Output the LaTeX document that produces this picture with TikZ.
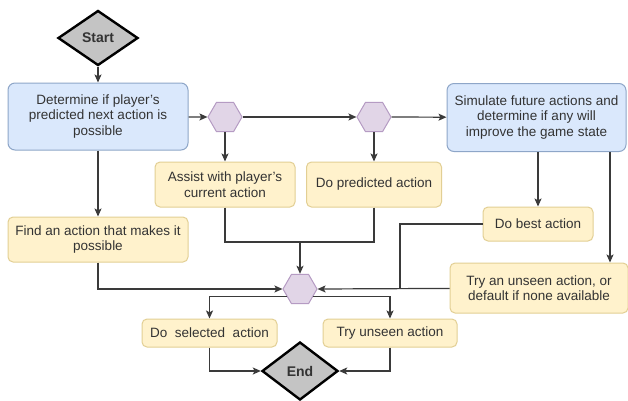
\documentclass[tikz,border=0pt]{standalone}
\usepackage{fontspec}
\setmainfont{Liberation Sans}
\usetikzlibrary{shapes.geometric,arrows.meta}
\definecolor{bluefill}{HTML}{DAE8FC}
\definecolor{blueline}{HTML}{8EA6C8}
\definecolor{yellowfill}{HTML}{FFF2CC}
\definecolor{yellowline}{HTML}{E2CF94}
\definecolor{purplefill}{HTML}{E1D5E7}
\definecolor{purpleline}{HTML}{B59BC3}
\definecolor{diamondfill}{HTML}{C4C4C4}
\definecolor{linegray}{HTML}{3A3A3A}
\definecolor{textgray}{HTML}{333333}
\tikzset{
	bluebox/.style={draw=blueline,fill=bluefill,rounded corners=7pt,line width=1pt,
		align=center,inner sep=0pt,text=textgray},
	yellowbox/.style={draw=yellowline,fill=yellowfill,rounded corners=5pt,line width=1pt,
		align=center,inner sep=0pt,text=textgray},
	hexnode/.style={regular polygon,regular polygon sides=6,minimum size=34pt,
		inner sep=0pt,draw=purpleline,fill=purplefill,line width=1pt},
	terminal/.style={diamond,draw=black,fill=diamondfill,line width=2.4pt,
		inner sep=0pt,font=\fontsize{14}{16}\selectfont\bfseries,text=textgray},
	flow/.style={draw=linegray,line width=1.2pt,-{Stealth[length=8pt,width=7pt,inset=1.8pt]}},
	wire/.style={draw=linegray,line width=1.2pt}
}
\begin{document}
\begin{tikzpicture}[x=1pt,y=-1pt,font=\fontsize{13.5}{15.5}\selectfont]
	\useasboundingbox[fill=white] (0,0) rectangle (628,400);
	% end points
	\node[terminal,minimum width=80pt,minimum height=55pt] (start) at (98,38) {Start};
	\node[terminal,minimum width=76pt,minimum height=58pt] (end) at (300,371) {End};
	% first row
	\node[bluebox,minimum width=180pt,minimum height=67pt] (det) at (98,116.5)
		{Determine if player's\\predicted next action is\\possible};
	\node[hexnode] (hexA) at (225,117) {};
	\node[hexnode] (hexB) at (374,117) {};
	\node[bluebox,minimum width=179pt,minimum height=68pt] (sim) at (536.5,117.5)
		{Simulate future actions and\\determine if any will\\improve the game state};
	% actions
	\node[yellowbox,minimum width=140pt,minimum height=45pt] (assist) at (225,184.5)
		{Assist with player's\\current action};
	\node[yellowbox,minimum width=135pt,minimum height=45pt] (pred) at (374,184.5)
		{Do predicted action};
	\node[yellowbox,minimum width=180pt,minimum height=45pt] (find) at (98,239.5)
		{Find an action that makes it\\possible};
	\node[yellowbox,minimum width=110pt,minimum height=34pt] (best) at (538,224)
		{Do best action};
	\node[yellowbox,minimum width=178pt,minimum height=50pt] (try) at (539,288)
		{Try an unseen action, or\\default if none available};
	\node[hexnode] (hexC) at (300,289) {};
	\node[yellowbox,minimum width=135pt,minimum height=28pt] (sel) at (209.5,333)
		{Do\ \ selected\ \ action};
	\node[yellowbox,minimum width=134pt,minimum height=28pt] (tryun) at (390,333)
		{Try unseen action};
	% bends
	\coordinate (join) at (300,242);
	\coordinate (bend) at (400,289);
	\coordinate (simR) at (610,152);
	% connectors
	\draw[flow] (start) -- (det);
	\draw[flow] (det) -- (hexA.west);
	\draw[flow] (hexA.east) -- (hexB.west);
	\draw[flow] (hexB.east) -- (sim);
	\draw[flow] (hexA.south) -- (assist);
	\draw[flow] (hexB.south) -- (pred);
	\draw[flow] (det) -- (find);
	\draw[flow] (best.north |- sim.south) -- (best);
	\draw[flow] (simR) -- (simR |- try.north);
	\draw[wire] (assist) |- (join);
	\draw[wire] (pred) |- (join);
	\draw[flow] (join) -- (hexC.north);
	\draw[flow] (find) |- (hexC.west);
	\draw[wire] (best) -| (bend);
	\draw[flow] (try) -- (hexC.east);
	\draw[flow] (hexC.-150) -| (sel);
	\draw[flow] (hexC.-30) -| (tryun);
	\draw[flow] (sel) |- (end.west);
	\draw[flow] (tryun) |- (end.east);
\end{tikzpicture}
\end{document}
